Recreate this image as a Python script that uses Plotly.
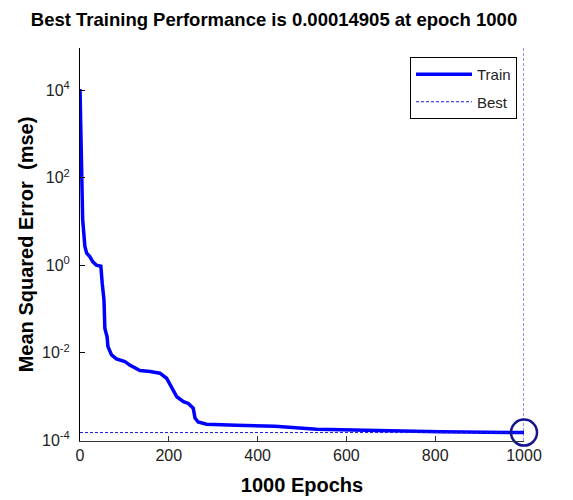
import plotly.graph_objects as go

# ---- data ----
epochs = [0, 1, 3, 4, 6, 11, 15, 22, 29, 37, 47, 50, 54, 56, 61, 63, 71, 82, 101, 112,
          123, 135, 158, 180, 195, 206, 218, 233, 244, 255, 259, 266, 277, 285, 352,
          439, 533, 648, 810, 1000]
train_mse = [1.07e4, 2.7e3, 151, 31, 11, 2.7, 1.9, 1.58, 1.2, 1.0, 0.95, 0.39, 0.16,
             0.036, 0.023, 0.0138, 0.0089, 0.0072, 0.0063, 0.0052, 0.0045, 0.0039,
             0.0037, 0.0034, 0.0026, 0.00166, 0.00098, 0.00076, 0.00069, 0.00054,
             0.00032, 0.00026, 0.00024, 0.00023, 0.000219, 0.000209, 0.000178,
             0.000166, 0.000155, 0.00014905]
best_epoch = 1000
best_perf = 0.00014905
x_tick_vals = [0, 200, 400, 600, 800, 1000]
y_tick_vals = [1e-4, 1e-2, 1e0, 1e2, 1e4]
y_tick_text = ["10<sup>-4</sup>", "10<sup>-2</sup>", "10<sup>0</sup>", "10<sup>2</sup>", "10<sup>4</sup>"]
x_range = [0, 1000]
y_log_range = [-4.02, 4.97]
y_min, y_max = 10 ** y_log_range[0], 10 ** y_log_range[1]

FONT = "Liberation Sans, Arial, sans-serif"

fig = go.Figure()
fig.add_trace(go.Scatter(
    x=epochs, y=train_mse, mode="lines", name="Train", legendgroup="train",
    line=dict(color="#0000FF", width=3.5),
))
fig.add_trace(go.Scatter(
    x=[x_range[0], best_epoch, None, best_epoch, best_epoch],
    y=[best_perf, best_perf, None, y_min, y_max],
    mode="lines", name="Best", legendgroup="best",
    line=dict(color="#1a1ae6", width=1, dash="3px,2px"),
))
fig.add_trace(go.Scatter(
    x=[best_epoch], y=[best_perf], mode="markers", showlegend=False,
    marker=dict(symbol="circle-open", size=26, color="#14148c",
                line=dict(width=2.5, color="#14148c")),
    cliponaxis=False,
))

fig.update_layout(
    width=573, height=500,
    margin=dict(l=80, r=49, t=48, b=59, autoexpand=False),
    paper_bgcolor="white", plot_bgcolor="white",
    font=dict(family=FONT, color="#222222", size=15),
    title=dict(text="<b>Best Training Performance is 0.00014905 at epoch 1000</b>",
               xref="container", x=274 / 573, xanchor="center",
               yref="container", y=1 - 20 / 500, yanchor="middle",
               font=dict(size=18.5, color="#000000")),
    showlegend=True,
    legend=dict(x=(517 - 80) / 444, xanchor="right", y=1 - 9 / 393, yanchor="top",
                bgcolor="white", bordercolor="#000000", borderwidth=1,
                font=dict(size=15, color="#222222"), itemwidth=56,
                traceorder="grouped", tracegroupgap=5),
    xaxis=dict(range=x_range, tickvals=x_tick_vals, ticks="inside", ticklen=5,
               tickcolor="#333333", showline=True, linecolor="#333333", linewidth=1,
               mirror=False, showgrid=False, zeroline=False,
               tickfont=dict(size=16, color="#222222"),
               title=dict(text="<b>1000 Epochs</b>", font=dict(size=20, color="#000000"),
                          standoff=14)),
    yaxis=dict(type="log", range=y_log_range, tickvals=y_tick_vals, ticktext=y_tick_text,
               ticks="inside", ticklen=5, tickcolor="#000000", showline=True,
               linecolor="#000000", linewidth=1, mirror=False, showgrid=False,
               zeroline=False, tickfont=dict(size=16, color="#222222"),
               ticklabelstandoff=6,
               title=dict(text="<b>Mean Squared Error  (mse)</b>",
                          font=dict(size=20, color="#000000"), standoff=3)),
)

fig.write_html("out.html")
